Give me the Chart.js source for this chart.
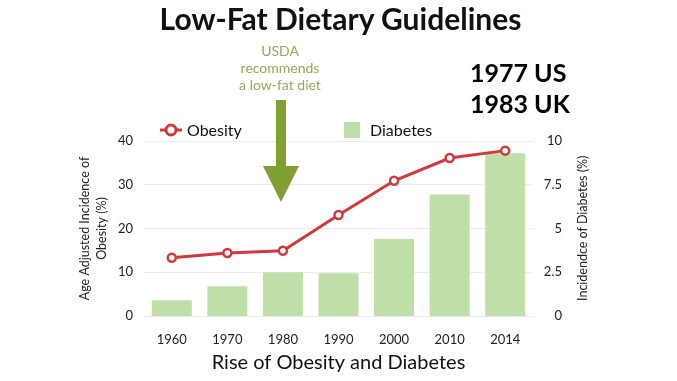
<!DOCTYPE html>
<html><head><meta charset="utf-8">
<script src="https://cdn.jsdelivr.net/npm/chart.js@4.4.0/dist/chart.umd.min.js"></script>
<style>
html,body{margin:0;padding:0;background:#fff;}
#wrap{position:relative;width:677px;height:381px;overflow:hidden;font-family:Lato,"Open Sans",sans-serif;}
canvas{position:absolute;left:0;top:0;}
.t{position:absolute;white-space:nowrap;}
</style></head>
<body>
<div id="wrap">
<canvas id="c" width="677" height="381"></canvas>
<div class="t" style="left:0;width:677px;top:-1px;text-align:center;font-weight:bold;font-size:30px;line-height:38px;color:#111;padding-left:2px;">Low-Fat Dietary Guidelines</div>
<div class="t" style="left:230px;width:100px;top:42px;text-align:center;font-size:14px;line-height:17px;color:#9aa55c;">USDA<br>recommends<br>a low-fat diet</div>
<svg class="t" style="left:258px;top:98px;" width="46" height="106"><polygon points="18,2 28,2 28,68 41,68 23,104 5,68 18,68" fill="#7f9f31"/></svg>
<div class="t" style="left:470px;top:57px;font-weight:bold;font-size:25px;line-height:31px;color:#000;">1977 US<br>1983 UK</div>
<svg class="t" style="left:158px;top:121px;" width="26" height="18"><line x1="2" y1="9" x2="24" y2="9" stroke="#d3383d" stroke-width="3"/><circle cx="13" cy="9" r="5" fill="#fff" stroke="#d3383d" stroke-width="3"/></svg>
<div class="t" style="left:187px;top:119px;font-size:16px;line-height:22px;color:#111;">Obesity</div>
<div class="t" style="left:344px;top:122px;width:16px;height:16px;background:#bfdfa9;"></div>
<div class="t" style="left:370px;top:119px;font-size:16px;line-height:22px;color:#111;">Diabetes</div>
<div class="t" style="left:574px;top:153px;height:150px;width:17px;text-align:center;font-size:12.5px;line-height:17px;color:#222;writing-mode:vertical-rl;transform:rotate(180deg);">Incidendce of Diabetes (%)</div>
</div>
<script>
const categories = ['1960','1970','1980','1990','2000','2010','2014'];
const obesity = [13.3, 14.4, 14.9, 23.1, 30.9, 36.1, 37.8];
const diabetes = [0.9, 1.7, 2.5, 2.45, 4.4, 6.95, 9.3];
const leftTicks = [0, 10, 20, 30, 40];
const rightTicks = ['0', '2.5', '5', '7.5', '10'];

const tickFont = {family: 'Lato, "Open Sans", sans-serif', size: 13};
new Chart(document.getElementById('c'), {
  data: {
    labels: categories,
    datasets: [
      {type: 'line', label: 'Obesity', data: obesity, yAxisID: 'y', borderColor: '#d3383d', borderWidth: 3,
       pointRadius: 4, pointBorderWidth: 2.5, pointBackgroundColor: '#fff', pointBorderColor: '#d3383d', tension: 0, order: 0},
      {type: 'bar', label: 'Diabetes', data: diabetes, yAxisID: 'y1', backgroundColor: '#bfdfa9',
       barPercentage: 0.8, categoryPercentage: 0.9, order: 1}
    ]
  },
  options: {
    responsive: false, animation: false,
    layout: {padding: {left: 75, right: 115, top: 141, bottom: 0}},
    plugins: {legend: {display: false}, tooltip: {enabled: false}},
    scales: {
      x: {
        grid: {display: false}, border: {display: false},
        ticks: {font: tickFont, color: '#222', padding: 8},
        title: {display: true, text: 'Rise of Obesity and Diabetes', font: {family: 'Lato, "Open Sans", sans-serif', size: 20}, color: '#111', padding: {top: 4, bottom: 6}},
        afterFit: s => { s.height = 65; }
      },
      y: {
        position: 'left', min: 0, max: 40,
        afterBuildTicks: s => { s.ticks = leftTicks.map(v => ({value: v})); },
        grid: {color: '#ececec', drawTicks: false}, border: {display: false},
        ticks: {font: tickFont, color: '#222', padding: 11},
        title: {display: true, text: ['Age Adjusted Incidence of', 'Obesity (%)'], font: {family: 'Lato, "Open Sans", sans-serif', size: 12.5, lineHeight: 1.35}, color: '#222', padding: {top: 2, bottom: 2}},
        afterFit: s => { s.width = 69; }
      },
      y1: {
        position: 'right', min: 0, max: 10,
        afterBuildTicks: s => { s.ticks = rightTicks.map(v => ({value: parseFloat(v)})); },
        grid: {display: false, drawTicks: false}, border: {display: false},
        ticks: {font: tickFont, color: '#222', padding: 13, crossAlign: 'far', callback: (v, i) => rightTicks[i]},
        afterFit: s => { s.width = 29; }
      }
    }
  }
});
</script>
</body></html>
